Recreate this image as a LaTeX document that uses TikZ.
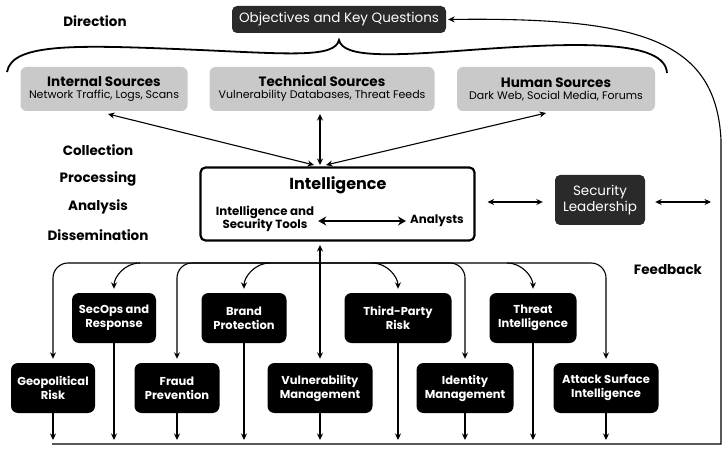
\documentclass[tikz,border=0pt]{standalone}
\usepackage{fontspec}
\setmainfont{Poppins}
\usetikzlibrary{arrows.meta,positioning}

\definecolor{srcgray}{HTML}{C9C9C9}
\definecolor{leadgray}{HTML}{2A2A2A}

\tikzset{
  darkbox/.style={fill=leadgray, text=white, rounded corners=5pt, align=center, inner sep=2pt},
  srcbox/.style={fill=srcgray, rounded corners=6pt, align=center, inner sep=2pt, minimum height=44pt},
  taskbox/.style={fill=black, text=white, rounded corners=7pt, align=center, inner sep=2pt,
    minimum height=50pt, font=\fontsize{11.5}{14}\selectfont\bfseries},
  cue/.style={font=\fontsize{13.5}{15}\selectfont\bfseries},
  link/.style={line width=1.1pt, -{Stealth[length=6.5pt,width=6pt]}},
  dbl/.style={line width=1.1pt, {Stealth[length=6.5pt,width=6pt]}-{Stealth[length=6.5pt,width=6pt]}}
}

\begin{document}
\begin{tikzpicture}[x=1pt,y=1pt]
    \useasboundingbox (0,0) rectangle (723,-449);

    % direction
    \node [darkbox, minimum width=214pt, minimum height=27pt, font=\fontsize{13.5}{15}\selectfont] (okq) at (339,-19.5) {Objectives and Key Questions};
    \node [cue] (direction) at (95,-21) {Direction};
    \draw [line width=1.8pt] (7,-72) .. controls (12,-42) and (80,-45) .. (200,-50)
        .. controls (290,-54) and (335,-58) .. (339,-40)
        .. controls (343,-58) and (390,-56) .. (470,-50)
        .. controls (580,-42) and (665,-40) .. (667,-73);

    % sources
    \node [srcbox, minimum width=167pt] (internal) at (104,-89)
        {{\fontsize{13.5}{15}\selectfont\bfseries Internal Sources}\\{\fontsize{11}{12}\selectfont Network Traffic, Logs, Scans}};
    \node [srcbox, minimum width=225pt] (technical) at (322,-89)
        {{\fontsize{13.5}{15}\selectfont\bfseries Technical Sources}\\{\fontsize{11}{12}\selectfont Vulnerability Databases, Threat Feeds}};
    \node [srcbox, minimum width=198pt] (human) at (556,-89)
        {{\fontsize{13.5}{15}\selectfont\bfseries Human Sources}\\{\fontsize{11}{12}\selectfont Dark Web, Social Media, Forums}};

    % cycle steps
    \node [cue] (collection) at (98,-150) {Collection};
    \node [cue] (processing) at (98,-179) {Processing};
    \node [cue] (analysis) at (98,-207) {Analysis};
    \node [cue] (dissemination) at (98,-235) {Dissemination};

    % intelligence
    \node [draw, line width=2.2pt, rounded corners=5pt, minimum width=274pt, minimum height=73pt] (intel) at (337.5,-204) {};
    \node [font=\fontsize{16}{18}\selectfont\bfseries] (inteltitle) at (338,-185) {Intelligence};
    \node [font=\fontsize{11.8}{13.5}\selectfont\bfseries, align=center, inner sep=1pt] (tools) at (265,-219) {Intelligence and\\Security Tools};
    \node [font=\fontsize{11.8}{13.5}\selectfont\bfseries, inner sep=1pt] (analysts) at (437,-221) {Analysts};
    \draw [line width=2.6pt, {Stealth[length=8pt,width=9pt]}-{Stealth[length=8pt,width=9pt]}] ([xshift=3pt]tools.east |- analysts) -- ([xshift=-3pt]analysts.west);

    \coordinate (intop) at (320,-165);
    \draw [dbl] ([xshift=-6pt]intop) -- (108,-114);
    \draw [dbl] (intop) -- (320,-114);
    \draw [dbl] ([xshift=6pt]intop) -- (546,-113);

    % leadership
    \node [darkbox, minimum width=90pt, minimum height=50pt, font=\fontsize{13.5}{16}\selectfont] (lead) at (600,-200) {Security\\Leadership};
    \coordinate (fbjoin) at (711,-202);
    \draw [dbl] ([xshift=12pt]intel.east |- fbjoin) -- ([xshift=-12pt]lead.west |- fbjoin);
    \draw [dbl] ([xshift=10pt]lead.east |- fbjoin) -- (fbjoin);

    % feedback
    \node [cue] (feedback) at (668,-270) {Feedback};
    \coordinate (fbstart) at (52,-444);
    \coordinate (fbcorner) at (721,-444);
    \draw [link] (fbstart) -- (fbcorner) -- (721,-140) .. controls (716,-40) and (640,-17) .. ([xshift=2pt]okq.east);

    % consumers
    \node [taskbox, minimum width=84pt] (secops) at (114,-318) {SecOps and\\Response};
    \node [taskbox, minimum width=85pt] (brand) at (244,-318) {Brand\\Protection};
    \node [taskbox, minimum width=107pt] (third) at (398,-318) {Third-Party\\Risk};
    \node [taskbox, minimum width=87pt] (threat) at (533,-318) {Threat\\Intelligence};
    \node [taskbox, minimum width=84pt] (geo) at (53,-388) {Geopolitical\\Risk};
    \node [taskbox, minimum width=85pt] (fraud) at (177,-388) {Fraud\\Prevention};
    \node [taskbox, minimum width=105pt] (vuln) at (320,-388) {Vulnerability\\Management};
    \node [taskbox, minimum width=97pt] (ident) at (465,-388) {Identity\\Management};
    \node [taskbox, minimum width=105pt] (attack) at (606,-388) {Attack Surface\\Intelligence};

    % distribution bus
    \coordinate (bus) at (320,-263);
    \draw [link] (bus) -- (320,-245);
    \draw [link, shorten >=4pt] (bus) -- (vuln.north);
    \foreach \n in {geo,fraud,ident,attack}
        \draw [link, rounded corners=15pt, shorten >=4pt] (bus) -| (\n.north);
    \draw [link, shorten >=4pt] (140,-263) to[out=180,in=90] (secops.north);
    \draw [link, shorten >=4pt] (270,-263) to[out=180,in=90] (brand.north);
    \draw [link, shorten >=4pt] (372,-263) to[out=0,in=90] (third.north);
    \draw [link, shorten >=4pt] (507,-263) to[out=0,in=90] (threat.north);

    % outputs
    \coordinate (outline) at (0,-440);
    \foreach \n in {geo,secops,fraud,brand,vuln,third,ident,threat,attack}
        \draw [link] (\n.south) -- (\n.south |- outline);
\end{tikzpicture}
\end{document}
